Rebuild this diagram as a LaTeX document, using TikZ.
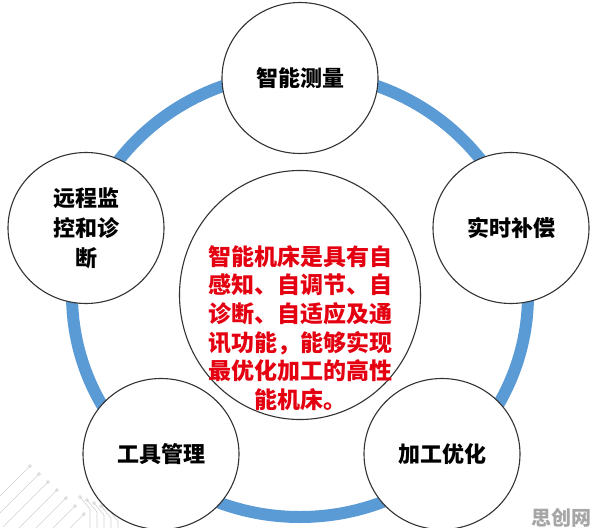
\documentclass[tikz,border=0pt]{standalone}
\usepackage{fontspec}
\usetikzlibrary{shapes.geometric}
\newfontfamily\cjk{Noto Sans CJK SC}
\definecolor{ringblue}{RGB}{91,155,213}
\definecolor{corered}{RGB}{228,0,16}

\begin{document}
\begin{tikzpicture}[x=1pt, y=-1pt, font=\cjk\bfseries,
    bubble/.style={ellipse, draw=black!80, line width=1.1pt, fill=white,
      minimum width=156pt, minimum height=151pt, inner sep=0pt, align=center,
      font=\cjk\bfseries\fontsize{22}{30}\selectfont},
    ring/.style={draw=ringblue, line width=12pt},
    trace/.style={draw=black!18, line width=0.6pt}]
  \useasboundingbox (0,0) rectangle (596,527);

  % faint circuit traces, bottom left
  \foreach \k in {0,...,6}
    \draw[trace] (30+\k*9, 466+\k*8) circle[radius=1.5] -- ++(-45,45);
  \foreach \k in {0,...,4}
    \draw[trace] (80+\k*7, 497+\k*3) circle[radius=1.5] -- ++(10,12) -- ++(0,20);

  % ring
  \coordinate (hub) at (300,295);
  \draw[ring] (hub) ellipse [x radius=228, y radius=222];

  % centre
  \node[ellipse, draw=black!80, line width=1.1pt, fill=white,
    minimum width=241pt, minimum height=249pt] (core) at (hub) {};
  \node[text=corered, align=center, font=\cjk\bfseries\fontsize{23}{28.6}\selectfont]
    (coretext) at (300,328) {智能机床是具有自\\感知、自调节、自\\诊断、自适应及通\\讯功能，能够实现\\最优化加工的高性\\能机床。};

  % five functions
  \node[bubble] (measure) at (300,78) {智能测量};
  \node[bubble] (comp) at (511,228) {实时补偿};
  \node[bubble] (optim) at (442,454) {加工优化};
  \node[bubble] (tools) at (161,454) {工具管理};
  \node[bubble] (remote) at (86,228) {远程监\\控和诊\\断};

  \node[text=black!35, font=\cjk\bfseries\fontsize{20}{20}\selectfont] (mark) at (561,518) {思创网};
\end{tikzpicture}
\end{document}
